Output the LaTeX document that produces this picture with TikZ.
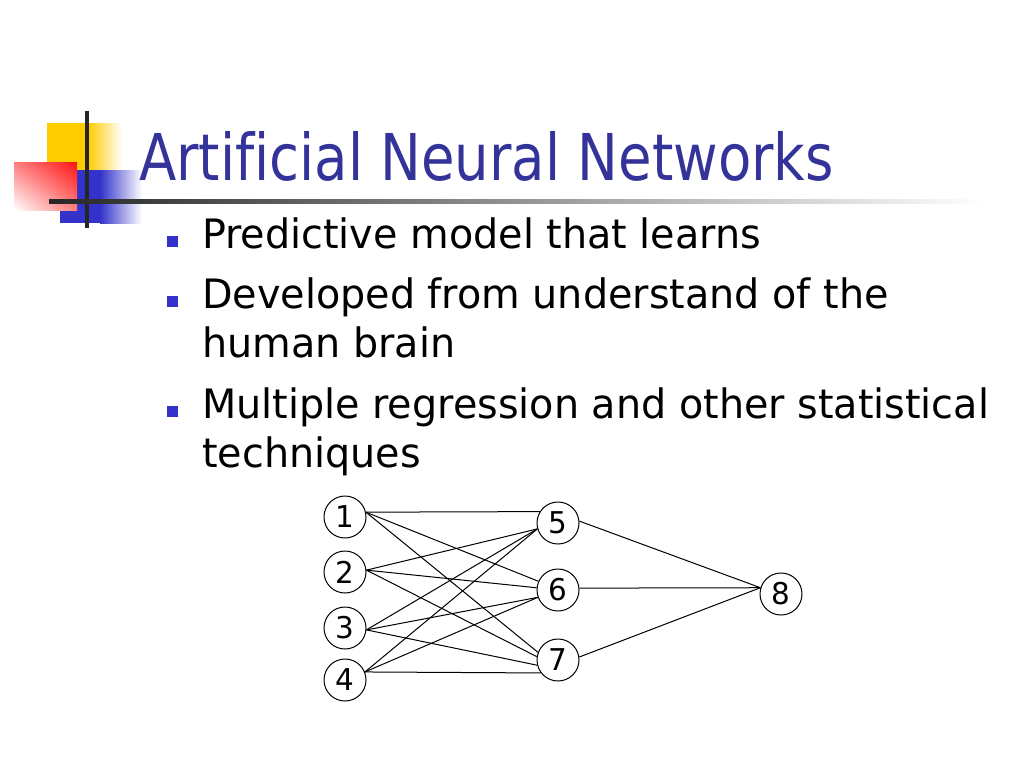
\documentclass[tikz,border=0pt]{standalone}
\usepackage{fontspec}
\usetikzlibrary{shadings}
\setmainfont{DejaVu Sans}[FakeStretch=0.98,Ligatures=NoCommon]
\newfontfamily\titlefont{DejaVu Sans}[FakeStretch=0.845,Ligatures=NoCommon]
\definecolor{titleblue}{RGB}{51,51,153}
\definecolor{bulletblue}{RGB}{51,51,204}
\definecolor{logoyellow}{RGB}{255,204,0}
\definecolor{logoblue}{RGB}{51,51,204}
\definecolor{logored}{RGB}{255,20,20}
\begin{document}
\begin{tikzpicture}[x=1pt,y=-1pt,
  neuron/.style={circle,draw,line width=1pt,minimum size=42pt,inner sep=0pt,
    font=\fontsize{30}{30}\selectfont},
  link/.style={line width=1pt},
  bodytext/.style={anchor=base west,inner sep=0pt,font=\fontsize{40.5}{49}\selectfont},
  bulletsq/.style={fill=bulletblue}]
\useasboundingbox (0,0) rectangle (1024,768);
\fill[white] (0,0) rectangle (1024,768);
% logo
\fill[logoyellow] (47,123) rectangle (88,195);
\shade[left color=logoyellow,right color=white] (88,123) rectangle (122,195);
\fill[logoblue] (60,170) rectangle (100,223);
\shade[left color=logoblue,right color=white] (100,170) rectangle (142,223);
\shade[upper left=logored!55,upper right=logored,lower left=white,lower right=logored!55] (14,162) rectangle (77,210);
\fill[black!85] (85,111) rectangle (89,228);
\shade[left color=black!85,right color=white] (49,199) rectangle (985,203);
% title
\node[anchor=base west,inner sep=0pt,text=titleblue,font=\titlefont\fontsize{64.5}{64.5}\selectfont] (title) at (139,180) {Artificial Neural Networks};
% bullets
\fill[bulletsq] (167,236) rectangle (178,247);
\node[bodytext] (b1) at (202,248) {Predictive model that learns};
\fill[bulletsq] (167,296) rectangle (178,307);
\node[bodytext] (b2) at (202,308) {Developed from understand of the};
\node[bodytext] (b2b) at (202,357) {human brain};
\fill[bulletsq] (167,406) rectangle (178,417);
\node[bodytext] (b3) at (202,418) {Multiple regression and other statistical};
\node[bodytext] (b3b) at (202,467) {techniques};
% network
\node[neuron] (n1) at (345,517) {1};
\node[neuron] (n2) at (345,572) {2};
\node[neuron] (n3) at (345,628) {3};
\node[neuron] (n4) at (345,680) {4};
\node[neuron] (n5) at (558,523) {5};
\node[neuron] (n6) at (558,590) {6};
\node[neuron] (n7) at (558,660) {7};
\node[neuron] (n8) at (781,594) {8};
\draw[link] (n1.13) -- (n5.148);
\draw[link] (n1.13) -- (n6.156);
\draw[link] (n1.13) -- (n7.159);
\draw[link] (n2.5) -- (n5.196);
\draw[link] (n2.5) -- (n6.174);
\draw[link] (n2.5) -- (n7.171);
\draw[link] (n3.-5) -- (n5.196);
\draw[link] (n3.-5) -- (n6.200);
\draw[link] (n3.-5) -- (n7.194);
\draw[link] (n4.22) -- (n5.196);
\draw[link] (n4.22) -- (n6.200);
\draw[link] (n4.22) -- (n7.217);
\draw[link] (n5.5) -- (n8.163);
\draw[link] (n6.5) -- (n8.163);
\draw[link] (n7.8) -- (n8.163);
\end{tikzpicture}
\end{document}
